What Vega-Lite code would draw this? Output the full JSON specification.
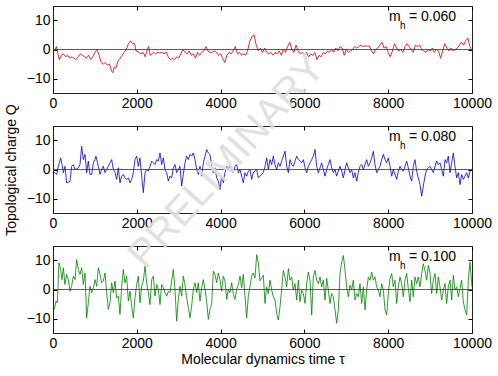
{
"$schema": "https://vega.github.io/schema/vega-lite/v6.json",
"padding": {"left": 3, "top": 5, "right": 5, "bottom": 5},
"config": {
  "view": {"stroke": "#222", "strokeWidth": 1},
  "font": "Liberation Sans",
  "axis": {"grid": false, "domain": false, "tickColor": "#000", "tickSize": -4, "tickWidth": 1, "labelFontSize": 14, "labelColor": "#000", "titleFontSize": 14, "titleFontWeight": "normal", "titleColor": "#000", "labelFont": "Liberation Sans", "titleFont": "Liberation Sans", "labelPadding": 7, "labelFlush": false}
},
"datasets": {
"p1": [
{"t":0,"q":0},{"t":40,"q":-0.5},{"t":80,"q":1},{"t":110,"q":-1},{"t":150,"q":-3.5},{"t":200,"q":-2},{"t":250,"q":-1.5},{"t":300,"q":-2.5},{"t":350,"q":-2},{"t":400,"q":-3},{"t":450,"q":-2.5},{"t":500,"q":-3},{"t":550,"q":-3.5},{"t":600,"q":-2.5},{"t":650,"q":-1.5},{"t":700,"q":-2},{"t":750,"q":-2.5},{"t":800,"q":-3},{"t":850,"q":-2},{"t":900,"q":-3.5},{"t":950,"q":-2.5},{"t":1000,"q":-1},{"t":1050,"q":0},{"t":1100,"q":-2},{"t":1150,"q":-4.5},{"t":1200,"q":-5},{"t":1250,"q":-4.5},{"t":1300,"q":-5.5},{"t":1350,"q":-5},{"t":1400,"q":-7.5},{"t":1430,"q":-8},{"t":1460,"q":-6},{"t":1500,"q":-6.5},{"t":1550,"q":-4},{"t":1600,"q":-3},{"t":1650,"q":-2},{"t":1700,"q":-1},{"t":1750,"q":0},{"t":1800,"q":2},{"t":1850,"q":3},{"t":1900,"q":2},{"t":1950,"q":2},{"t":1980,"q":-0.5},{"t":2050,"q":-1},{"t":2100,"q":-1.5},{"t":2150,"q":-1},{"t":2200,"q":-2.5},{"t":2250,"q":0},{"t":2280,"q":1},{"t":2320,"q":-2},{"t":2400,"q":-1},{"t":2450,"q":-1.5},{"t":2500,"q":-1},{"t":2550,"q":-1.2},{"t":2600,"q":-1},{"t":2650,"q":-1.5},{"t":2700,"q":-0.8},{"t":2750,"q":-2.5},{"t":2800,"q":-3.5},{"t":2850,"q":-3},{"t":2900,"q":-3.5},{"t":2950,"q":-2.5},{"t":3000,"q":-3},{"t":3050,"q":-1.5},{"t":3100,"q":0},{"t":3150,"q":-1},{"t":3200,"q":-1.5},{"t":3250,"q":-0.5},{"t":3300,"q":-2},{"t":3350,"q":-1.5},{"t":3400,"q":-3},{"t":3450,"q":-1},{"t":3500,"q":-2},{"t":3550,"q":-1},{"t":3600,"q":-0.5},{"t":3650,"q":1},{"t":3700,"q":-0.5},{"t":3750,"q":-1},{"t":3800,"q":-1},{"t":3850,"q":-0.5},{"t":3900,"q":-1},{"t":3950,"q":-2},{"t":4000,"q":-1.5},{"t":4050,"q":-3},{"t":4100,"q":-4.5},{"t":4150,"q":-2},{"t":4200,"q":-1},{"t":4250,"q":-1.5},{"t":4300,"q":-0.5},{"t":4350,"q":1},{"t":4400,"q":-1.5},{"t":4450,"q":-1},{"t":4500,"q":-2},{"t":4550,"q":-1.5},{"t":4600,"q":-2},{"t":4650,"q":0},{"t":4700,"q":3},{"t":4750,"q":4.5},{"t":4800,"q":5},{"t":4850,"q":1.5},{"t":4900,"q":-0.5},{"t":4950,"q":0.5},{"t":5000,"q":-1},
{"t":5050,"q":0.5},{"t":5100,"q":-1},{"t":5150,"q":-1.5},{"t":5200,"q":-1},{"t":5250,"q":-2},{"t":5300,"q":-1},{"t":5350,"q":-1.5},{"t":5400,"q":-0.5},{"t":5450,"q":-2},{"t":5500,"q":0},{"t":5550,"q":-1},{"t":5600,"q":1},{"t":5650,"q":2.5},{"t":5700,"q":0},{"t":5750,"q":-1},{"t":5800,"q":1.5},{"t":5850,"q":-0.5},{"t":5900,"q":-1.5},{"t":5950,"q":-1},{"t":6000,"q":-2},{"t":6050,"q":-1},{"t":6100,"q":-2.5},{"t":6150,"q":-1.5},{"t":6200,"q":-2},{"t":6250,"q":-1},{"t":6300,"q":-3.5},{"t":6350,"q":-2},{"t":6400,"q":-2.5},{"t":6450,"q":-1},{"t":6500,"q":-1.5},{"t":6550,"q":-0.5},{"t":6600,"q":-1},{"t":6650,"q":0},{"t":6700,"q":-1},{"t":6750,"q":0.5},{"t":6800,"q":-0.5},{"t":6850,"q":1},{"t":6900,"q":0.5},{"t":6950,"q":-2},{"t":7000,"q":0},{"t":7050,"q":-1},{"t":7100,"q":-0.5},{"t":7150,"q":0},{"t":7200,"q":1},{"t":7250,"q":0.5},{"t":7300,"q":1},{"t":7350,"q":1.5},{"t":7400,"q":1},{"t":7450,"q":1.2},{"t":7500,"q":1.2},{"t":7550,"q":1.2},{"t":7600,"q":-0.5},{"t":7650,"q":-1.5},{"t":7700,"q":0},{"t":7750,"q":0.5},{"t":7800,"q":1.5},{"t":7850,"q":2.5},{"t":7900,"q":0.5},{"t":7950,"q":1},{"t":8000,"q":-1},{"t":8050,"q":-2.5},{"t":8100,"q":-0.5},{"t":8150,"q":2},{"t":8200,"q":0.5},{"t":8250,"q":-0.5},{"t":8300,"q":0},{"t":8350,"q":-1},{"t":8400,"q":1},{"t":8450,"q":2},{"t":8500,"q":1},{"t":8550,"q":0},{"t":8600,"q":-1},{"t":8650,"q":1.5},{"t":8700,"q":1},{"t":8750,"q":1.5},{"t":8800,"q":0},{"t":8850,"q":-0.5},{"t":8900,"q":-1},{"t":8950,"q":0},{"t":9000,"q":-0.5},{"t":9050,"q":0.5},{"t":9100,"q":-1},{"t":9150,"q":0},{"t":9200,"q":-0.5},{"t":9250,"q":-3},{"t":9300,"q":-0.5},{"t":9350,"q":2},{"t":9400,"q":0.5},{"t":9450,"q":-0.5},{"t":9500,"q":0.5},{"t":9550,"q":-0.5},{"t":9600,"q":0},{"t":9650,"q":0.5},{"t":9700,"q":1.5},{"t":9750,"q":2.5},{"t":9800,"q":1.5},{"t":9850,"q":3},{"t":9900,"q":4},{"t":9950,"q":1},{"t":10000,"q":-0.5}
],
"p2": [
{"t":0,"q":-0.6},{"t":48,"q":-1.1},{"t":88,"q":-1.7},{"t":127,"q":1.1},{"t":183,"q":4.0},{"t":215,"q":1.7},{"t":247,"q":-1.1},{"t":286,"q":1.1},{"t":326,"q":-4.6},{"t":366,"q":-4.4},{"t":406,"q":-4.0},{"t":445,"q":1.1},{"t":485,"q":1.7},{"t":525,"q":0},{"t":565,"q":0.2},{"t":605,"q":0.6},{"t":644,"q":1.7},{"t":684,"q":8.0},{"t":724,"q":3.4},{"t":764,"q":5.2},{"t":803,"q":-1.1},{"t":843,"q":2.9},{"t":883,"q":-1.7},{"t":923,"q":-1.7},{"t":963,"q":2.3},{"t":1002,"q":3.4},{"t":1026,"q":4.6},{"t":1082,"q":1.1},{"t":1122,"q":-1.7},{"t":1161,"q":0},{"t":1201,"q":1.1},{"t":1241,"q":-1.1},{"t":1281,"q":0},{"t":1320,"q":1.1},{"t":1360,"q":2.3},{"t":1400,"q":3.4},{"t":1440,"q":0},{"t":1480,"q":-1.1},{"t":1519,"q":-3.4},{"t":1559,"q":0.6},{"t":1599,"q":-4.6},{"t":1639,"q":-2.3},{"t":1679,"q":-1.7},{"t":1718,"q":-2.9},{"t":1758,"q":-3.4},{"t":1798,"q":-2.9},{"t":1838,"q":-4.6},{"t":1877,"q":-3.4},{"t":1917,"q":-1.1},{"t":1957,"q":3.4},{"t":1997,"q":4.6},{"t":2036,"q":1.1},{"t":2076,"q":4.0},{"t":2116,"q":-2.3},{"t":2156,"q":-8.0},{"t":2196,"q":-1.1},{"t":2235,"q":0},{"t":2275,"q":-0.6},{"t":2315,"q":1.1},{"t":2355,"q":2.9},{"t":2394,"q":2.3},{"t":2434,"q":1.7},{"t":2474,"q":3.4},{"t":2514,"q":2.9},{"t":2554,"q":5.7},{"t":2593,"q":1.7},{"t":2633,"q":4.0},{"t":2673,"q":0},{"t":2713,"q":-1.1},{"t":2752,"q":-4.0},{"t":2792,"q":-2.3},{"t":2832,"q":-2.9},{"t":2872,"q":0.6},{"t":2912,"q":1.7},{"t":2951,"q":-1.1},{"t":2991,"q":0},{"t":3031,"q":1.1},{"t":3071,"q":-5.7},{"t":3110,"q":-1.7},{"t":3150,"q":2.3},{"t":3190,"q":4.6},{"t":3230,"q":3.4},{"t":3270,"q":5.2},{"t":3309,"q":4.6},{"t":3349,"q":5.7},{"t":3389,"q":3.4},{"t":3429,"q":0},{"t":3468,"q":-1.7},{"t":3508,"q":1.1},{"t":3548,"q":-2.3},{"t":3588,"q":2.3},{"t":3627,"q":4.6},{"t":3667,"q":6.9},{"t":3707,"q":5.7},{"t":3747,"q":5.2},{"t":3787,"q":1.1},{"t":3826,"q":-1.1},{"t":3866,"q":0.6},{"t":3906,"q":-2.9},{"t":3946,"q":-4.0},{"t":3985,"q":-6.9},{"t":4025,"q":-2.3},{"t":4065,"q":-4.6},{"t":4105,"q":-1.1},{"t":4145,"q":1.1},{"t":4184,"q":0},{"t":4224,"q":1.7},{"t":4264,"q":0},{"t":4304,"q":-1.1},{"t":4343,"q":1.1},{"t":4383,"q":1.7},{"t":4423,"q":-1.1},{"t":4463,"q":0},{"t":4503,"q":-2.3},{"t":4542,"q":-4.6},{"t":4582,"q":-1.1},{"t":4622,"q":-2.3},{"t":4662,"q":-0.6},{"t":4701,"q":0},{"t":4741,"q":-3.4},{"t":4781,"q":-1.1},{"t":4821,"q":-0.6},{"t":4861,"q":0},{"t":4900,"q":-2.9},
{"t":5020,"q":-1.1},{"t":5059,"q":1.1},{"t":5099,"q":4.0},{"t":5139,"q":0},{"t":5179,"q":3.4},{"t":5219,"q":1.7},{"t":5258,"q":4.6},{"t":5298,"q":1.7},{"t":5338,"q":0},{"t":5378,"q":2.3},{"t":5418,"q":1.1},{"t":5457,"q":2.9},{"t":5497,"q":4.6},{"t":5537,"q":6.3},{"t":5577,"q":1.1},{"t":5617,"q":-1.1},{"t":5656,"q":3.4},{"t":5696,"q":1.7},{"t":5736,"q":1.1},{"t":5776,"q":2.9},{"t":5816,"q":4.6},{"t":5855,"q":3.4},{"t":5895,"q":2.9},{"t":5935,"q":2.3},{"t":5975,"q":3.4},{"t":6015,"q":0.6},{"t":6054,"q":-1.1},{"t":6094,"q":1.1},{"t":6134,"q":2.3},{"t":6174,"q":3.4},{"t":6213,"q":4.6},{"t":6253,"q":6.9},{"t":6293,"q":1.1},{"t":6333,"q":-1.1},{"t":6373,"q":0.6},{"t":6412,"q":2.3},{"t":6452,"q":0},{"t":6492,"q":-2.3},{"t":6532,"q":0},{"t":6571,"q":1.7},{"t":6611,"q":3.4},{"t":6651,"q":0.6},{"t":6691,"q":-1.1},{"t":6731,"q":0},{"t":6770,"q":-2.3},{"t":6810,"q":-0.6},{"t":6850,"q":1.1},{"t":6890,"q":-0.6},{"t":6930,"q":-2.9},{"t":6969,"q":0},{"t":7009,"q":2.3},{"t":7049,"q":0.6},{"t":7089,"q":-1.1},{"t":7128,"q":0},{"t":7168,"q":-2.9},{"t":7208,"q":-1.1},{"t":7248,"q":-4.0},{"t":7287,"q":-1.1},{"t":7327,"q":1.1},{"t":7367,"q":1.7},{"t":7407,"q":0},{"t":7447,"q":1.7},{"t":7486,"q":3.4},{"t":7526,"q":1.1},{"t":7566,"q":2.3},{"t":7606,"q":4.0},{"t":7645,"q":6.3},{"t":7685,"q":1.7},{"t":7725,"q":-1.1},{"t":7765,"q":0},{"t":7804,"q":1.1},{"t":7844,"q":3.4},{"t":7884,"q":5.2},{"t":7924,"q":3.4},{"t":7964,"q":2.3},{"t":8003,"q":4.0},{"t":8043,"q":1.1},{"t":8083,"q":-2.3},{"t":8122,"q":0},{"t":8162,"q":-1.7},{"t":8202,"q":-3.4},{"t":8242,"q":-0.6},{"t":8282,"q":1.1},{"t":8321,"q":0},{"t":8361,"q":-0.6},{"t":8401,"q":1.1},{"t":8441,"q":2.9},{"t":8480,"q":0.6},{"t":8520,"q":-2.3},{"t":8560,"q":-4.0},{"t":8600,"q":1.1},{"t":8639,"q":3.4},{"t":8679,"q":-0.6},{"t":8719,"q":-2.9},{"t":8759,"q":-5.2},{"t":8799,"q":-9.2},{"t":8838,"q":-5.7},{"t":8878,"q":-2.3},{"t":8918,"q":0},{"t":8958,"q":0.6},{"t":8998,"q":1.1},{"t":9037,"q":0},{"t":9077,"q":-1.1},{"t":9117,"q":1.1},{"t":9157,"q":2.9},{"t":9196,"q":1.7},{"t":9236,"q":2.3},{"t":9276,"q":0},{"t":9316,"q":-2.3},{"t":9356,"q":3.4},{"t":9395,"q":2.3},{"t":9435,"q":4.6},{"t":9475,"q":-1.1},{"t":9515,"q":2.3},{"t":9555,"q":5.7},{"t":9594,"q":1.1},{"t":9634,"q":-2.9},{"t":9674,"q":-1.1},{"t":9714,"q":-5.2},{"t":9753,"q":-1.7},{"t":9793,"q":-3.4},{"t":9833,"q":-2.3},{"t":9873,"q":-1.1},{"t":9912,"q":-2.9},{"t":9952,"q":-0.6},{"t":10000,"q":0}
],
"p3": [
{"t":0,"q":-6.9},{"t":32,"q":-6.9},{"t":72,"q":-4.0},{"t":103,"q":-4.6},{"t":143,"q":9.2},{"t":183,"q":6.9},{"t":215,"q":3.4},{"t":247,"q":7.5},{"t":286,"q":1.7},{"t":326,"q":5.2},{"t":366,"q":3.4},{"t":406,"q":-0.6},{"t":445,"q":1.1},{"t":485,"q":4.6},{"t":525,"q":3.4},{"t":565,"q":10.3},{"t":605,"q":6.9},{"t":644,"q":5.2},{"t":684,"q":7.5},{"t":724,"q":1.7},{"t":764,"q":5.7},{"t":803,"q":-9.8},{"t":843,"q":-4.6},{"t":883,"q":1.1},{"t":923,"q":-1.1},{"t":963,"q":0.6},{"t":1002,"q":3.4},{"t":1042,"q":1.1},{"t":1082,"q":7.5},{"t":1122,"q":5.2},{"t":1161,"q":2.3},{"t":1201,"q":2.9},{"t":1241,"q":5.7},{"t":1281,"q":-1.1},{"t":1320,"q":-6.9},{"t":1360,"q":-4.6},{"t":1400,"q":2.3},{"t":1440,"q":-1.1},{"t":1480,"q":2.9},{"t":1519,"q":-2.9},{"t":1559,"q":-2.3},{"t":1599,"q":-8.6},{"t":1639,"q":1.1},{"t":1679,"q":6.9},{"t":1718,"q":2.3},{"t":1758,"q":4.6},{"t":1798,"q":-4.0},{"t":1838,"q":-0.6},{"t":1877,"q":-5.7},{"t":1917,"q":-9.8},{"t":1957,"q":-2.9},{"t":1997,"q":1.7},{"t":2036,"q":4.6},{"t":2076,"q":-4.6},{"t":2116,"q":1.1},{"t":2156,"q":2.9},{"t":2196,"q":8.0},{"t":2235,"q":2.3},{"t":2275,"q":-1.1},{"t":2315,"q":-5.2},{"t":2355,"q":3.4},{"t":2394,"q":4.6},{"t":2434,"q":-2.3},{"t":2474,"q":1.7},{"t":2514,"q":0},{"t":2554,"q":-5.2},{"t":2593,"q":1.7},{"t":2633,"q":0.6},{"t":2673,"q":-1.1},{"t":2713,"q":-2.3},{"t":2752,"q":-0.6},{"t":2792,"q":-1.1},{"t":2832,"q":2.9},{"t":2872,"q":6.9},{"t":2912,"q":0},{"t":2951,"q":-10.9},{"t":2991,"q":-3.4},{"t":3031,"q":1.1},{"t":3071,"q":-2.3},{"t":3110,"q":4.6},{"t":3150,"q":1.7},{"t":3190,"q":-2.9},{"t":3230,"q":-6.3},{"t":3270,"q":-9.8},{"t":3309,"q":-5.7},{"t":3349,"q":0},{"t":3389,"q":2.3},{"t":3429,"q":-1.1},{"t":3468,"q":2.3},{"t":3508,"q":-4.0},{"t":3548,"q":0.6},{"t":3588,"q":3.4},{"t":3627,"q":0},{"t":3667,"q":-4.0},{"t":3707,"q":-10.3},{"t":3747,"q":-6.9},{"t":3787,"q":-5.2},{"t":3826,"q":6.3},{"t":3866,"q":5.2},{"t":3906,"q":2.3},{"t":3946,"q":5.7},{"t":3985,"q":3.4},{"t":4025,"q":-0.6},{"t":4065,"q":4.6},{"t":4105,"q":2.9},{"t":4145,"q":-3.4},{"t":4184,"q":0},{"t":4224,"q":-1.1},{"t":4264,"q":2.3},{"t":4304,"q":-1.7},{"t":4343,"q":-3.4},{"t":4383,"q":0},{"t":4423,"q":1.7},{"t":4463,"q":4.6},{"t":4503,"q":0.6},{"t":4542,"q":5.2},{"t":4582,"q":-2.3},{"t":4622,"q":-9.8},{"t":4662,"q":-2.3},{"t":4701,"q":1.1},{"t":4741,"q":4.6},{"t":4781,"q":5.7},{"t":4821,"q":4.0},{"t":4861,"q":12.0},{"t":4900,"q":9.2},{"t":4940,"q":3.0},
{"t":5020,"q":4.9},{"t":5059,"q":-4.8},{"t":5099,"q":0.9},{"t":5139,"q":-1.4},{"t":5179,"q":3.2},{"t":5219,"q":-0.2},{"t":5258,"q":-2.5},{"t":5298,"q":-3.6},{"t":5338,"q":-8.2},{"t":5378,"q":-10.5},{"t":5418,"q":-5.9},{"t":5457,"q":-0.2},{"t":5497,"q":6.6},{"t":5537,"q":4.3},{"t":5577,"q":0.9},{"t":5617,"q":7.2},{"t":5656,"q":3.2},{"t":5696,"q":4.3},{"t":5736,"q":-0.2},{"t":5776,"q":2.0},{"t":5816,"q":-3.6},{"t":5855,"q":3.2},{"t":5895,"q":-4.2},{"t":5935,"q":-0.2},{"t":5975,"q":-1.4},{"t":6015,"q":-4.8},{"t":6054,"q":2.0},{"t":6094,"q":6.0},{"t":6134,"q":3.2},{"t":6174,"q":-8.8},{"t":6213,"q":4.3},{"t":6253,"q":6.6},{"t":6293,"q":3.2},{"t":6333,"q":2.0},{"t":6373,"q":4.3},{"t":6412,"q":0.9},{"t":6452,"q":3.2},{"t":6492,"q":-3.6},{"t":6532,"q":3.8},{"t":6571,"q":-0.2},{"t":6611,"q":-4.8},{"t":6651,"q":-1.4},{"t":6691,"q":-2.5},{"t":6731,"q":-7.0},{"t":6770,"q":-11.6},{"t":6810,"q":-7.0},{"t":6850,"q":5.5},{"t":6890,"q":9.4},{"t":6930,"q":11.7},{"t":6969,"q":6.6},{"t":7009,"q":0.9},{"t":7049,"q":-2.5},{"t":7089,"q":1.5},{"t":7128,"q":-0.2},{"t":7168,"q":3.2},{"t":7208,"q":-3.6},{"t":7248,"q":-1.4},{"t":7287,"q":-2.5},{"t":7327,"q":2.0},{"t":7367,"q":-4.8},{"t":7407,"q":0.9},{"t":7447,"q":-7.0},{"t":7486,"q":-0.2},{"t":7526,"q":4.3},{"t":7566,"q":3.2},{"t":7606,"q":6.0},{"t":7645,"q":3.2},{"t":7685,"q":4.3},{"t":7725,"q":0.9},{"t":7765,"q":-0.2},{"t":7804,"q":-2.5},{"t":7844,"q":2.0},{"t":7884,"q":-0.2},{"t":7924,"q":-7.0},{"t":7964,"q":-8.8},{"t":8003,"q":-1.4},{"t":8043,"q":3.8},{"t":8083,"q":5.5},{"t":8122,"q":0.9},{"t":8162,"q":3.2},{"t":8202,"q":-4.8},{"t":8242,"q":0.9},{"t":8282,"q":4.3},{"t":8321,"q":2.0},{"t":8361,"q":-2.5},{"t":8401,"q":3.2},{"t":8441,"q":5.5},{"t":8480,"q":0.3},{"t":8520,"q":-4.2},{"t":8560,"q":3.2},{"t":8600,"q":-2.5},{"t":8639,"q":4.3},{"t":8679,"q":2.0},{"t":8719,"q":4.3},{"t":8759,"q":0.9},{"t":8799,"q":5.5},{"t":8838,"q":8.9},{"t":8878,"q":6.6},{"t":8918,"q":3.2},{"t":8958,"q":8.3},{"t":8998,"q":5.5},{"t":9037,"q":-1.4},{"t":9077,"q":3.2},{"t":9117,"q":5.5},{"t":9157,"q":-1.4},{"t":9196,"q":4.3},{"t":9236,"q":0.9},{"t":9276,"q":-3.6},{"t":9316,"q":-0.2},{"t":9356,"q":2.0},{"t":9395,"q":-4.8},{"t":9435,"q":0.9},{"t":9475,"q":3.2},{"t":9515,"q":-3.6},{"t":9555,"q":4.9},{"t":9594,"q":-0.2},{"t":9634,"q":0.9},{"t":9674,"q":-2.5},{"t":9714,"q":0.3},{"t":9753,"q":3.2},{"t":9793,"q":-4.2},{"t":9833,"q":-7.0},{"t":9873,"q":-8.8},{"t":9912,"q":3.2},{"t":9952,"q":9.4},{"t":10000,"q":0.9}
]
},
"spacing": 33,
"bounds": "flush",
"vconcat": [
{
 "width": 419, "height": 87,
 "layer": [
  {"data": {"name": "p1"},
   "mark": {"type": "line", "color": "#cc0000", "strokeWidth": 0.8, "clip": true},
   "encoding": {
    "x": {"field": "t", "type": "quantitative", "scale": {"domain": [0, 10000], "nice": false}, "axis": {"values": [0,2000,4000,6000,8000,10000], "format": "d", "title": null}},
    "y": {"field": "q", "type": "quantitative", "scale": {"domain": [-15, 15], "nice": false}, "axis": {"values": [-10,0,10], "title": null}}
   }},
  {"data": {"values": [{}]},
   "mark": {"type": "rule", "color": "#333", "strokeWidth": 0.8},
   "encoding": {
    "x": {"datum": 0, "type": "quantitative", "axis": {"orient": "top", "labels": false, "values": [0,2000,4000,6000,8000,10000], "title": null}},
    "x2": {"datum": 10000},
    "y": {"datum": 0, "type": "quantitative", "axis": {"orient": "right", "labels": false, "values": [-10,0,10], "title": null}}
   }},
  {"data": {"values": [{}]},
   "mark": {"type": "text", "text": "m", "fontSize": 14, "align": "left", "baseline": "alphabetic", "color": "#000"},
   "encoding": {"x": {"datum": 8019, "type": "quantitative", "axis": null}, "y": {"datum": 9.7, "type": "quantitative", "axis": null}}},
  {"data": {"values": [{}]},
   "mark": {"type": "text", "text": "h", "fontSize": 10, "align": "left", "baseline": "alphabetic", "color": "#000"},
   "encoding": {"x": {"datum": 8280, "type": "quantitative", "axis": null}, "y": {"datum": 7.1, "type": "quantitative", "axis": null}}},
  {"data": {"values": [{}]},
   "mark": {"type": "text", "text": "= 0.060", "fontSize": 14, "align": "left", "baseline": "alphabetic", "color": "#000"},
   "encoding": {"x": {"datum": 8496, "type": "quantitative", "axis": null}, "y": {"datum": 9.7, "type": "quantitative", "axis": null}}}
 ],
 "resolve": {"axis": {"x": "independent", "y": "independent"}}
},
{
 "width": 419, "height": 87,
 "layer": [
  {"data": {"name": "p2"},
   "mark": {"type": "line", "color": "#0000cc", "strokeWidth": 0.8, "clip": true},
   "encoding": {
    "x": {"field": "t", "type": "quantitative", "scale": {"domain": [0, 10000], "nice": false}, "axis": {"values": [0,2000,4000,6000,8000,10000], "format": "d", "title": null}},
    "y": {"field": "q", "type": "quantitative", "scale": {"domain": [-15, 15], "nice": false}, "axis": {"values": [-10,0,10], "title": "Topological charge Q", "titlePadding": 8}}
   }},
  {"data": {"values": [{}]},
   "mark": {"type": "rule", "color": "#333", "strokeWidth": 0.8},
   "encoding": {
    "x": {"datum": 0, "type": "quantitative", "axis": {"orient": "top", "labels": false, "values": [0,2000,4000,6000,8000,10000], "title": null}},
    "x2": {"datum": 10000},
    "y": {"datum": 0, "type": "quantitative", "axis": {"orient": "right", "labels": false, "values": [-10,0,10], "title": null}}
   }},
  {"data": {"values": [{}]},
   "mark": {"type": "text", "text": "m", "fontSize": 14, "align": "left", "baseline": "alphabetic", "color": "#000"},
   "encoding": {"x": {"datum": 8019, "type": "quantitative", "axis": null}, "y": {"datum": 9.7, "type": "quantitative", "axis": null}}},
  {"data": {"values": [{}]},
   "mark": {"type": "text", "text": "h", "fontSize": 10, "align": "left", "baseline": "alphabetic", "color": "#000"},
   "encoding": {"x": {"datum": 8280, "type": "quantitative", "axis": null}, "y": {"datum": 7.1, "type": "quantitative", "axis": null}}},
  {"data": {"values": [{}]},
   "mark": {"type": "text", "text": "= 0.080", "fontSize": 14, "align": "left", "baseline": "alphabetic", "color": "#000"},
   "encoding": {"x": {"datum": 8496, "type": "quantitative", "axis": null}, "y": {"datum": 9.7, "type": "quantitative", "axis": null}}}
 ],
 "resolve": {"axis": {"x": "independent", "y": "independent"}}
},
{
 "width": 419, "height": 87,
 "layer": [
  {"data": {"name": "p3"},
   "mark": {"type": "line", "color": "#008000", "strokeWidth": 0.8, "clip": true},
   "encoding": {
    "x": {"field": "t", "type": "quantitative", "scale": {"domain": [0, 10000], "nice": false}, "axis": {"values": [0,2000,4000,6000,8000,10000], "format": "d", "title": "Molecular dynamics time τ", "titlePadding": 2}},
    "y": {"field": "q", "type": "quantitative", "scale": {"domain": [-15, 15], "nice": false}, "axis": {"values": [-10,0,10], "title": null}}
   }},
  {"data": {"values": [{}]},
   "mark": {"type": "rule", "color": "#333", "strokeWidth": 0.8},
   "encoding": {
    "x": {"datum": 0, "type": "quantitative", "axis": {"orient": "top", "labels": false, "values": [0,2000,4000,6000,8000,10000], "title": null}},
    "x2": {"datum": 10000},
    "y": {"datum": 0, "type": "quantitative", "axis": {"orient": "right", "labels": false, "values": [-10,0,10], "title": null}}
   }},
  {"data": {"values": [{}]},
   "mark": {"type": "text", "text": "m", "fontSize": 14, "align": "left", "baseline": "alphabetic", "color": "#000"},
   "encoding": {"x": {"datum": 8019, "type": "quantitative", "axis": null}, "y": {"datum": 9.7, "type": "quantitative", "axis": null}}},
  {"data": {"values": [{}]},
   "mark": {"type": "text", "text": "h", "fontSize": 10, "align": "left", "baseline": "alphabetic", "color": "#000"},
   "encoding": {"x": {"datum": 8280, "type": "quantitative", "axis": null}, "y": {"datum": 7.1, "type": "quantitative", "axis": null}}},
  {"data": {"values": [{}]},
   "mark": {"type": "text", "text": "= 0.100", "fontSize": 14, "align": "left", "baseline": "alphabetic", "color": "#000"},
   "encoding": {"x": {"datum": 8496, "type": "quantitative", "axis": null}, "y": {"datum": 9.7, "type": "quantitative", "axis": null}}},
  {"data": {"values": [{}]},
   "mark": {"type": "text", "text": "PRELIMINARY", "fontSize": 40, "angle": 312, "align": "center", "baseline": "middle", "color": "#dedede", "opacity": 0.9},
   "encoding": {"x": {"datum": 4150, "type": "quantitative", "axis": null}, "y": {"datum": 44, "type": "quantitative", "axis": null}}}
 ],
 "resolve": {"axis": {"x": "independent", "y": "independent"}}
}
]
}
